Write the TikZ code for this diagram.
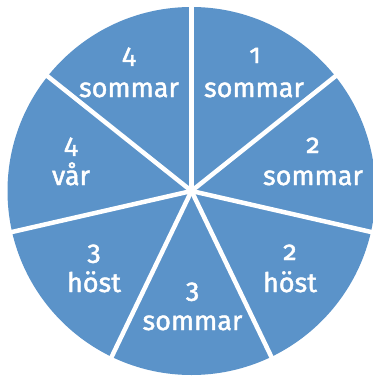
\documentclass[tikz,border=0pt]{standalone}
\usepackage{fontspec}
\newfontfamily\lblfont{Fira Sans}[Numbers=OldStyle,UprightFeatures={FakeBold=1.6}]
\definecolor{pieblue}{RGB}{91,147,201}
\tikzset{
  lbl/.style={anchor=base, text=white, inner sep=0pt, font=\lblfont\fontsize{27}{32}\selectfont},
  sep/.style={draw=white, line width=4.5pt}
}
\begin{document}
\begin{tikzpicture}[x=1pt,y=-1pt]
\useasboundingbox (0,0) rectangle (373,376);
\coordinate (c) at (191.5,191);
\fill[pieblue] (c) circle[radius=184];
\foreach \i/\a in {1/-90,2/-38.571,3/12.857,4/64.286,5/115.714,6/167.143,7/218.571}{
  \coordinate (e\i) at ([shift={(\a:187)}]c);
  \draw[sep] (c) -- (e\i);
}
\node[lbl] (n1) at (255,63) {1};
\node[lbl] (w1) at (254,97) {sommar};
\node[lbl] (n2) at (313,153) {2};
\node[lbl] (w2) at (313,185) {sommar};
\node[lbl] (n3) at (290,260) {2};
\node[lbl] (w3) at (290,292) {höst};
\node[lbl] (n4) at (192.5,298) {3};
\node[lbl] (w4) at (192.5,330) {sommar};
\node[lbl] (n5) at (94,260) {3};
\node[lbl] (w5) at (94,292) {höst};
\node[lbl] (n6) at (71,153) {4};
\node[lbl] (w6) at (71,185) {vår};
\node[lbl] (n7) at (129,63) {4};
\node[lbl] (w7) at (129,97) {sommar};
\end{tikzpicture}
\end{document}
